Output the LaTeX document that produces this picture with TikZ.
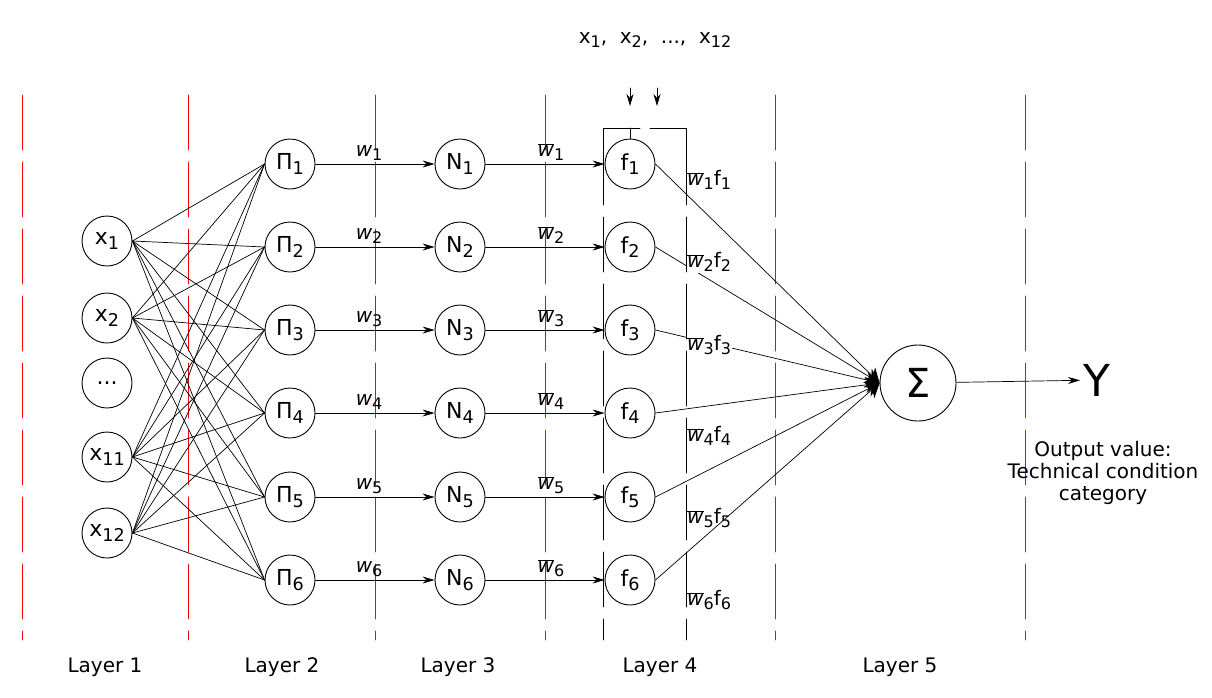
\documentclass[tikz,border=0pt]{standalone}
\usepackage{fontspec}
\setmainfont{DejaVu Sans}
\usetikzlibrary{arrows.meta}
\newcommand{\idx}[1]{\raisebox{-0.35ex}{\scalebox{0.8}{#1}}}
\newcommand{\ow}[1]{$\overline{\hbox{\textit{w}}}$\idx{#1}}
\begin{document}
\begin{tikzpicture}[x=1pt,y=-1pt,line cap=round,line join=round,>={Stealth[length=12pt,width=7pt]},
    neuron/.style={circle, draw, line width=0.9pt, minimum size=50pt, inner sep=0pt, font=\fontsize{22}{24}\selectfont},
    layerline/.style={draw=red, line width=0.8pt, dash pattern=on 55pt off 12pt},
    lbl/.style={font=\fontsize{20}{22}\selectfont},
    wire/.style={line width=0.7pt}]
    \useasboundingbox (0,0) rectangle (1212,697);

    % layer separators
    \foreach \lx in {22,188,375,545,775,1025}
        \draw [layerline] (\lx,95) -- (\lx,640);

    % layer 1
    \node[neuron] (x1) at (107,241) {x\idx{1}};
    \node[neuron] (x2) at (107,318) {x\idx{2}};
    \node[neuron] (xd) at (107,383) {...};
    \node[neuron] (x11) at (107,457) {x\idx{11}};
    \node[neuron] (x12) at (107,533) {x\idx{12}};

    % layers 2 to 4
    \foreach \i/\y in {1/164,2/247,3/330,4/413,5/497,6/580} {
        \node[neuron] (p\i) at (290,\y) {Π\idx{\i}};
        \node[neuron] (n\i) at (460,\y) {N\idx{\i}};
        \node[neuron] (f\i) at (630,\y) {f\idx{\i}};
        \draw [wire,->] (p\i) -- node[lbl,above,pos=0.45] {\textit{w}\idx{\i}} (n\i);
        \draw [wire,->] (n\i) -- node[lbl,above,pos=0.55] {\ow{\i}} (f\i);
    }
    \foreach \a in {x1,x2,x11,x12}
        \foreach \i in {1,...,6}
            \draw [wire] (\a.east) -- (p\i.west);

    % layer 5
    \node[neuron, minimum size=76pt, font=\fontsize{40}{42}\selectfont] (s) at (918,383) {Σ};
    \node[font=\fontsize{44}{46}\selectfont] (y) at (1097,380) {Y};
    \node[lbl, align=center] (out) at (1103,473) {Output value:\\Technical condition\\category};
    \draw [wire,->] (s) -- (y);
    \foreach \i/\y in {1/180,2/262,3/345,4/436,5/518,6/600} {
        \draw [wire,-{Stealth[length=14pt,width=16pt]}] (f\i.east) -- (s.west);
        \node[lbl,anchor=west,fill=white,inner sep=1pt] at (686,\y) {\ow{\i}f\idx{\i}};
    }

    % input bracket of layer 4
    \node[lbl] (inp) at (655,40) {x\idx{1},\ \ x\idx{2},\ \ ...,\ \ x\idx{12}};
    \coordinate (a1) at (630,88);
    \coordinate (a2) at (657,88);
    \coordinate (b1) at (630,106);
    \coordinate (b2) at (657,106);
    \draw [wire,->] (a1) -- (b1);
    \draw [wire,->] (a2) -- (b2);
    \draw [wire] (603,150) -- (603,128) -- (640,128);
    \draw [wire] (650,128) -- (686,128) -- (686,150);
    \draw [wire] (f1.north) -- (f1.north |- 0,128);
    \draw [wire, dash pattern=on 55pt off 12pt] (603,150) -- (603,640);
    \draw [wire, dash pattern=on 55pt off 12pt] (686,150) -- (686,640);

    % layer names
    \foreach \t/\lx in {1/105,2/282,3/458,4/660,5/900}
        \node[lbl] (l\t) at (\lx,667) {Layer \t};
\end{tikzpicture}
\end{document}
